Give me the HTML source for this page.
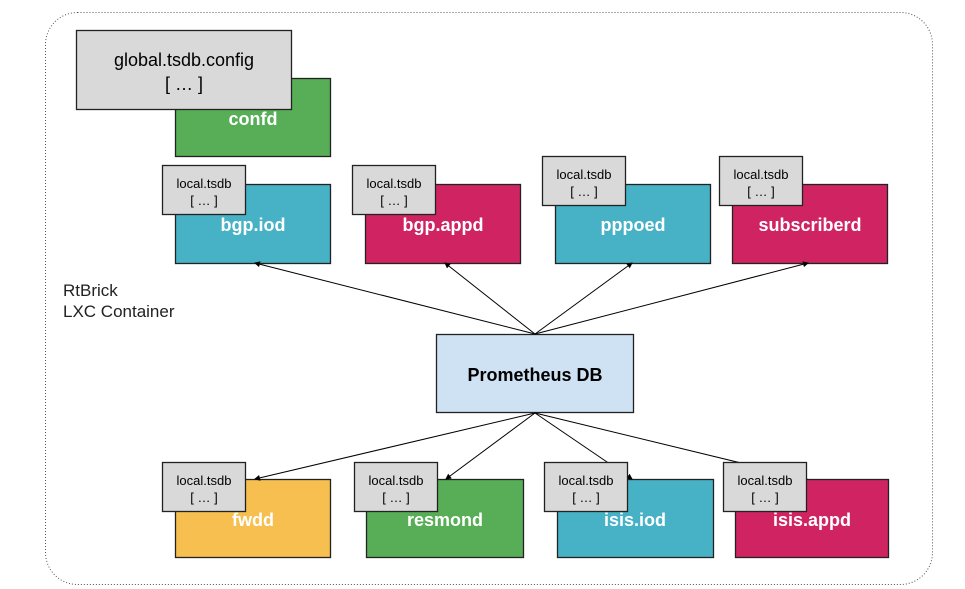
<!DOCTYPE html>
<html><head><style>html,body{margin:0;padding:0;background:#fff}svg{display:block}</style></head>
<body>
<svg width="965" height="589" viewBox="0 0 965 589" xmlns="http://www.w3.org/2000/svg" font-family="Liberation Sans, Arial, sans-serif">
<defs><marker id="a" markerWidth="6" markerHeight="6" refX="5" refY="3" orient="auto" markerUnits="userSpaceOnUse"><path d="M0,0 L6,3 L0,6 z" fill="#000"/></marker></defs>
<rect x="45.5" y="12.5" width="887" height="572" rx="32" fill="none" stroke="#555" stroke-dasharray="1,2"/>
<g stroke="#222" stroke-width="1.3">
<rect x="175.5" y="78.5" width="155" height="78" fill="#57ae57"/>
<rect x="76.5" y="30.5" width="215" height="79" fill="#d9d9d9"/>
<rect x="175.5" y="184.5" width="155" height="79" fill="#47b1c6"/>
<rect x="365.5" y="184.5" width="155" height="79" fill="#d02462"/>
<rect x="555.5" y="184.5" width="155" height="79" fill="#47b1c6"/>
<rect x="732.5" y="184.5" width="155" height="79" fill="#d02462"/>
<rect x="162.5" y="165.5" width="83" height="49" fill="#d9d9d9"/>
<rect x="352.5" y="165.5" width="83" height="49" fill="#d9d9d9"/>
<rect x="542.5" y="156.5" width="83" height="49" fill="#d9d9d9"/>
<rect x="719.5" y="156.5" width="83" height="49" fill="#d9d9d9"/>
<rect x="436.5" y="334.5" width="197" height="78" fill="#cfe2f3"/>
<rect x="175.5" y="479.5" width="155" height="78" fill="#f6bf4f"/>
<rect x="366.5" y="479.5" width="157" height="78" fill="#57ae57"/>
<rect x="557.5" y="479.5" width="156" height="78" fill="#47b1c6"/>
<rect x="735.5" y="479.5" width="153" height="78" fill="#d02462"/>
</g>
<g stroke="#000" stroke-width="1" marker-end="url(#a)">
<line x1="535" y1="334" x2="255" y2="263"/>
<line x1="535" y1="334" x2="445" y2="263"/>
<line x1="535" y1="334" x2="632" y2="263"/>
<line x1="535" y1="334" x2="808" y2="263"/>
<line x1="535" y1="413" x2="255" y2="479"/>
<line x1="535" y1="413" x2="446" y2="479"/>
<line x1="535" y1="413" x2="632" y2="479"/>
<line x1="535" y1="413" x2="807" y2="479"/>
</g>
<g stroke="#222" stroke-width="1.3" fill="#d9d9d9">
<rect x="162.5" y="462.5" width="83" height="49"/>
<rect x="354.5" y="462.5" width="83" height="49"/>
<rect x="544.5" y="462.5" width="83" height="49"/>
<rect x="723.5" y="462.5" width="83" height="49"/>
</g>
<g text-anchor="middle" fill="#fff" font-weight="bold" font-size="18">
<text x="253" y="125">confd</text>
<text x="253" y="231">bgp.iod</text>
<text x="443" y="231">bgp.appd</text>
<text x="633" y="231">pppoed</text>
<text x="810" y="231">subscriberd</text>
<text x="253" y="526">fwdd</text>
<text x="445" y="526">resmond</text>
<text x="635" y="526">isis.iod</text>
<text x="812" y="526">isis.appd</text>
</g>
<text x="535" y="381" text-anchor="middle" font-weight="bold" font-size="18" fill="#000">Prometheus DB</text>
<g text-anchor="middle" font-size="18" fill="#000">
<text x="184" y="66">global.tsdb.config</text>
<text x="184" y="90">[ … ]</text>
</g>
<g text-anchor="middle" font-size="13" fill="#000">
<text x="204" y="188">local.tsdb</text><text x="204" y="205">[ … ]</text>
<text x="394" y="188">local.tsdb</text><text x="394" y="205">[ … ]</text>
<text x="584" y="179">local.tsdb</text><text x="584" y="196">[ … ]</text>
<text x="761" y="179">local.tsdb</text><text x="761" y="196">[ … ]</text>
<text x="204" y="485">local.tsdb</text><text x="204" y="502">[ … ]</text>
<text x="396" y="485">local.tsdb</text><text x="396" y="502">[ … ]</text>
<text x="586" y="485">local.tsdb</text><text x="586" y="502">[ … ]</text>
<text x="765" y="485">local.tsdb</text><text x="765" y="502">[ … ]</text>
</g>
<g font-size="17" fill="#222">
<text x="63" y="296">RtBrick</text>
<text x="63" y="317">LXC Container</text>
</g>
</svg>
</body></html>
